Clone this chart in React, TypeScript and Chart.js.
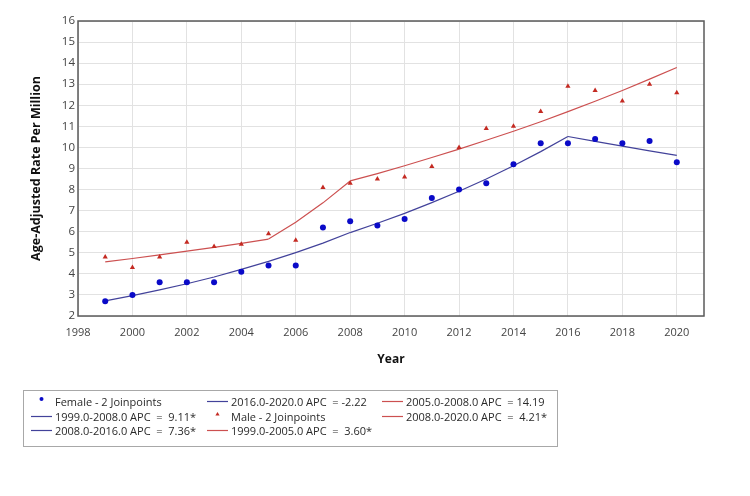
import React, { useEffect, useRef } from "react";
import { Chart, registerables } from "chart.js";

Chart.register(...registerables);

// Observed age-adjusted rates per million, by year of diagnosis
const years = [1999, 2000, 2001, 2002, 2003, 2004, 2005, 2006, 2007, 2008, 2009, 2010, 2011, 2012, 2013, 2014, 2015, 2016, 2017, 2018, 2019, 2020];
const femaleRate = [2.7, 3.0, 3.6, 3.6, 3.6, 4.1, 4.4, 4.4, 6.2, 6.5, 6.3, 6.6, 7.6, 8.0, 8.3, 9.2, 10.2, 10.2, 10.4, 10.2, 10.3, 9.3];
const maleRate = [4.8, 4.3, 4.8, 5.5, 5.3, 5.4, 5.9, 5.6, 8.1, 8.3, 8.5, 8.6, 9.1, 10.0, 10.9, 11.0, 11.7, 12.9, 12.7, 12.2, 13.0, 12.6];

// Joinpoint model fitted values
const femaleModel = [2.72, 2.97, 3.24, 3.53, 3.85, 4.21, 4.59, 5.01, 5.46, 5.96, 6.40, 6.87, 7.38, 7.92, 8.50, 9.13, 9.80, 10.52, 10.29, 10.06, 9.84, 9.62];
const maleModel = [4.57, 4.73, 4.90, 5.08, 5.26, 5.45, 5.65, 6.45, 7.37, 8.41, 8.76, 9.13, 9.52, 9.92, 10.34, 10.77, 11.22, 11.70, 12.19, 12.70, 13.24, 13.79];

// Joinpoint segments
const femaleSegmentLabels = ["1999.0-2008.0 APC  =  9.11*", "2008.0-2016.0 APC  =  7.36*", "2016.0-2020.0 APC  = -2.22"];
const femaleSegmentYears = [[1999, 2008], [2008, 2016], [2016, 2020]];
const maleSegmentLabels = ["1999.0-2005.0 APC  =  3.60*", "2005.0-2008.0 APC  = 14.19", "2008.0-2020.0 APC  =  4.21*"];
const maleSegmentYears = [[1999, 2005], [2005, 2008], [2008, 2020]];

const femaleLabel = "Female - 2 Joinpoints";
const maleLabel = "Male - 2 Joinpoints";

const FEMALE_POINT = "#0a0ac8";
const FEMALE_LINE = "#42429a";
const MALE_POINT = "#c42a22";
const MALE_LINE = "#cc5050";
const FONT = "'Open Sans', sans-serif";

type LegendEntry = { label: string; kind: "circle" | "triangle" | "line"; color: string };

const segmentData = (model: number[], range: number[]) =>
  years
    .map((x, i) => ({ x, y: model[i] }))
    .filter((p) => p.x >= range[0] && p.x <= range[1]);

const legendEntries: LegendEntry[] = [
  { label: femaleLabel, kind: "circle", color: FEMALE_POINT },
  ...femaleSegmentLabels.map((label) => ({ label, kind: "line" as const, color: FEMALE_LINE })),
  { label: maleLabel, kind: "triangle", color: MALE_POINT },
  ...maleSegmentLabels.map((label) => ({ label, kind: "line" as const, color: MALE_LINE })),
];

// Draws a frame around the plotting area
const framePlugin = {
  id: "frame",
  afterDraw(chart: any) {
    const { ctx, chartArea } = chart;
    ctx.save();
    ctx.strokeStyle = "#5a5a5a";
    ctx.lineWidth = 1.5;
    ctx.strokeRect(chartArea.left, chartArea.top, chartArea.right - chartArea.left, chartArea.bottom - chartArea.top);
    ctx.restore();
  },
};

function LegendSymbol({ entry }: { entry: LegendEntry }) {
  if (entry.kind === "line") {
    return (
      <svg width={21} height={14} style={{ display: "block" }}>
        <line x1={0} y1={6.5} x2={21} y2={6.5} stroke={entry.color} strokeWidth={1.2} />
      </svg>
    );
  }
  if (entry.kind === "circle") {
    return (
      <svg width={21} height={14} style={{ display: "block" }}>
        <circle cx={10.5} cy={4} r={2} fill={entry.color} />
      </svg>
    );
  }
  return (
    <svg width={21} height={14} style={{ display: "block" }}>
      <polygon points="10.5,2 12.6,5.6 8.4,5.6" fill={entry.color} />
    </svg>
  );
}

export default function App() {
  const canvasRef = useRef<HTMLCanvasElement | null>(null);

  useEffect(() => {
    if (!canvasRef.current) return;
    Chart.defaults.font.family = FONT;

    const chart = new Chart(canvasRef.current, {
      type: "scatter",
      data: {
        datasets: [
          {
            label: femaleLabel,
            data: years.map((x, i) => ({ x, y: femaleRate[i] })),
            showLine: false,
            pointStyle: "circle",
            pointRadius: 3,
            pointBorderWidth: 0,
            backgroundColor: FEMALE_POINT,
            borderColor: FEMALE_POINT,
          },
          ...femaleSegmentLabels.map((label, k) => ({
            label,
            data: segmentData(femaleModel, femaleSegmentYears[k]),
            showLine: true,
            pointRadius: 0,
            borderWidth: 1.2,
            borderColor: FEMALE_LINE,
            backgroundColor: FEMALE_LINE,
          })),
          {
            label: maleLabel,
            data: years.map((x, i) => ({ x, y: maleRate[i] })),
            showLine: false,
            pointStyle: "triangle",
            pointRadius: 3,
            pointBorderWidth: 0,
            backgroundColor: MALE_POINT,
            borderColor: MALE_POINT,
          },
          ...maleSegmentLabels.map((label, k) => ({
            label,
            data: segmentData(maleModel, maleSegmentYears[k]),
            showLine: true,
            pointRadius: 0,
            borderWidth: 1.2,
            borderColor: MALE_LINE,
            backgroundColor: MALE_LINE,
          })),
        ],
      },
      options: {
        responsive: false,
        animation: false,
        layout: { padding: { left: 0, top: 21, right: 46, bottom: 128 } },
        plugins: { legend: { display: false }, tooltip: { enabled: false } },
        scales: {
          x: {
            type: "linear",
            min: 1998,
            max: 2021,
            afterFit: (s: any) => {
              s.height = 52;
            },
            ticks: {
              stepSize: 2,
              includeBounds: false,
              padding: 10,
              color: "#444",
              font: { size: 11, family: FONT },
              callback: (v: any) => String(v),
              maxRotation: 0,
            },
            grid: { color: "#e2e2e2", drawTicks: false },
            border: { display: false },
            title: {
              display: true,
              text: "Year",
              color: "#111",
              font: { size: 12, weight: "bold", family: FONT },
              padding: { top: 0, bottom: 1 },
            },
          },
          y: {
            type: "linear",
            min: 2,
            max: 16,
            afterFit: (s: any) => {
              s.width = 78;
            },
            ticks: {
              stepSize: 1,
              padding: 3,
              color: "#444",
              font: { size: 11.5, family: FONT },
            },
            grid: { color: "#e2e2e2", drawTicks: false },
            border: { display: false },
            title: {
              display: true,
              text: "Age-Adjusted Rate Per Million",
              color: "#111",
              font: { size: 12.5, weight: "bold", family: FONT },
              padding: { top: 28.5, bottom: 0 },
            },
          },
        },
      },
      plugins: [framePlugin],
    } as any);

    return () => chart.destroy();
  }, []);

  const colX = [31, 207, 382];
  const rowY = [401.7, 416.7, 430.7];

  return (
    <div style={{ position: "absolute", left: 0, top: 0, width: 750, height: 496, background: "#fff" }}>
      <canvas ref={canvasRef} width={750} height={496} style={{ display: "block", width: 750, height: 496 }} />
      <div
        style={{
          position: "absolute",
          left: 23,
          top: 390,
          width: 535,
          height: 57,
          border: "1px solid #a8a8a8",
          boxSizing: "border-box",
        }}
      />
      {legendEntries.map((entry, i) => {
        const col = Math.floor(i / 3);
        const row = i % 3;
        return (
          <div
            key={entry.label}
            style={{
              position: "absolute",
              left: colX[col],
              top: rowY[row] - 7,
              height: 14,
              display: "flex",
              alignItems: "center",
              fontFamily: FONT,
              fontSize: 11,
              lineHeight: "14px",
              color: "#2a2a2a",
              whiteSpace: "pre",
            }}
          >
            <LegendSymbol entry={entry} />
            <span style={{ marginLeft: 3 }}>{entry.label}</span>
          </div>
        );
      })}
    </div>
  );
}
